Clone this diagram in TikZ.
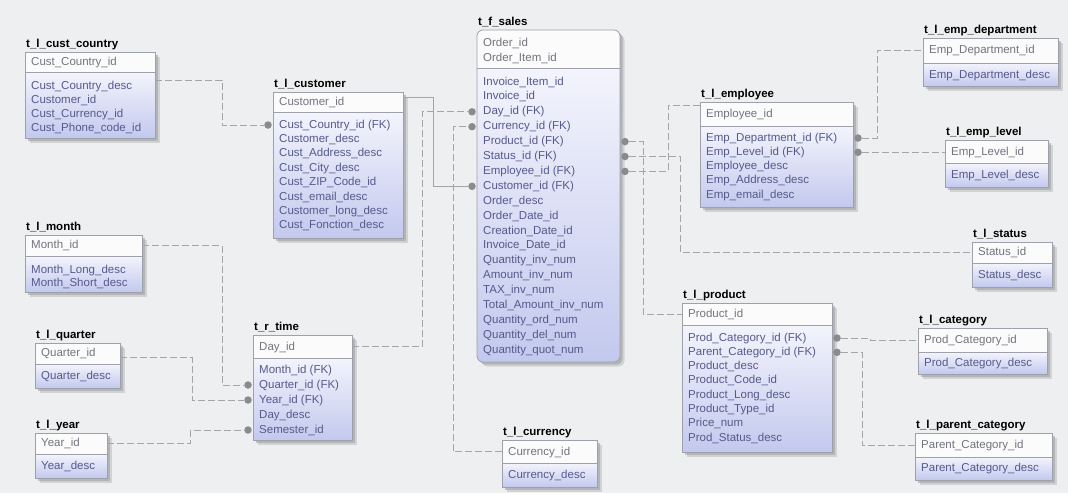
\documentclass[tikz,border=0pt]{standalone}
\usepackage{fontspec}
\setmainfont{Liberation Sans}
\usetikzlibrary{calc}

\definecolor{pagebg}{HTML}{EDEFF0}
\definecolor{boxline}{HTML}{9EA1A9}
\definecolor{pkfillc}{HTML}{FBFBFC}
\definecolor{attrtop}{HTML}{F3F4FC}
\definecolor{attrbot}{HTML}{C3C9EE}
\definecolor{pktext}{HTML}{72747F}
\definecolor{attrtext}{HTML}{555A8C}
\definecolor{linkc}{HTML}{A3A5A8}
\definecolor{dotc}{HTML}{8A8B8E}
\definecolor{shadowc}{HTML}{9C9DA2}

\pgfdeclarelayer{bg}
\pgfdeclarelayer{shadow}
\pgfsetlayers{bg,shadow,main}

\tikzset{
  tabtitle/.style={font=\fontsize{11.5}{13}\selectfont\bfseries, text=black, inner sep=0pt},
  pkrow/.style={font=\fontsize{11.5}{13}\selectfont, text=pktext, inner sep=0pt,
                text height=8.5pt, text depth=2.5pt},
  attrrow/.style={pkrow, text=attrtext},
  partbox/.style={draw=none, inner sep=0pt, outer sep=0pt},
  boxedge/.style={draw=boxline, line width=0.8pt},
  fkdot/.style={circle, fill=dotc, inner sep=0pt, minimum size=7.5pt},
  reflink/.style={draw=linkc, line width=0.8pt, dash pattern=on 7pt off 3pt},
  idlink/.style={draw=linkc, line width=0.8pt},
}

% Table frame: [corner radius]{id}{left}{top}{width}{separator y}{bottom}{title}
\newcommand\ertable[8][0pt]{%
  \pgfmathsetmacro\erright{#3+#5}%
  \begin{pgfonlayer}{shadow}
    \fill[shadowc, opacity=.35, rounded corners=#1] (#3+4.5,#4+4.5) rectangle (\erright+4.5,#7+4.5);
    \fill[shadowc, opacity=.55, rounded corners=#1] (#3+2.5,#4+2.5) rectangle (\erright+2.5,#7+2.5);
  \end{pgfonlayer}
  \begin{scope}
    \clip[rounded corners=#1] (#3,#4) rectangle (\erright,#7);
    \fill[pkfillc] (#3,#4) rectangle (\erright,#6);
    \shade[top color=attrtop, bottom color=attrbot] (#3,#6) rectangle (\erright,#7);
  \end{scope}
  \draw[boxedge, rounded corners=#1] (#3,#4) rectangle (\erright,#7);
  \draw[boxedge] (#3,#6) -- (\erright,#6);
  \node[partbox, anchor=north west, minimum width=#5, minimum height=#6-#4] (#2-pk) at (#3,#4) {};
  \node[partbox, anchor=north west, minimum width=#5, minimum height=#7-#6] (#2-attr) at (#3,#6) {};
  \node[tabtitle, anchor=base west] (#2-title) at (#3+1,#4-5) {#8};
}

% Column rows: {id}{style}{tag}{left}{first y}{pitch}{list}
\newcommand\errows[7]{%
  \foreach \txt [count=\k] in {#7} {%
    \node[#2, anchor=west] (#1-#3\k) at (#4+6, #5+\k*#6-#6) {\txt};
  }%
}

\begin{document}
\begin{tikzpicture}[x=1pt, y=-1pt]
\useasboundingbox (0,0) rectangle (1068,493);
\begin{pgfonlayer}{bg}
  \fill[pagebg] (0,0) rectangle (1068,493);
\end{pgfonlayer}

% ---- customer side
\ertable{cc}{25}{52}{130}{72}{138}{t\_l\_cust\_country}
\errows{cc}{pkrow}{p}{25}{62}{14}{{Cust\_Country\_id}}
\errows{cc}{attrrow}{a}{25}{86}{14}{{Cust\_Country\_desc},{Customer\_id},{Cust\_Currency\_id},{Cust\_Phone\_code\_id}}

\ertable{cu}{273}{92}{130}{112}{238}{t\_l\_customer}
\errows{cu}{pkrow}{p}{273}{102}{14}{{Customer\_id}}
\errows{cu}{attrrow}{a}{273}{125}{14.4}{{Cust\_Country\_id (FK)},{Customer\_desc},{Cust\_Address\_desc},{Cust\_City\_desc},{Cust\_ZIP\_Code\_id},{Cust\_email\_desc},{Customer\_long\_desc},{Cust\_Fonction\_desc}}

% ---- fact table
\ertable[6pt]{s}{477}{30}{143}{68}{362}{t\_f\_sales}
\errows{s}{pkrow}{p}{477}{43}{15}{{Order\_id},{Order\_Item\_id}}
\errows{s}{attrrow}{a}{477}{82}{14.9}{{Invoice\_Item\_id},{Invoice\_id},{Day\_id (FK)},{Currency\_id (FK)},{Product\_id (FK)},{Status\_id (FK)},{Employee\_id (FK)},{Customer\_id (FK)},{Order\_desc},{Order\_Date\_id},{Creation\_Date\_id},{Invoice\_Date\_id},{Quantity\_inv\_num},{Amount\_inv\_num},{TAX\_inv\_num},{Total\_Amount\_inv\_num},{Quantity\_ord\_num},{Quantity\_del\_num},{Quantity\_quot\_num}}

% ---- employee side
\ertable{e}{700}{102}{153}{126}{207}{t\_l\_employee}
\errows{e}{pkrow}{p}{700}{114}{14}{{Employee\_id}}
\errows{e}{attrrow}{a}{700}{138}{14.3}{{Emp\_Department\_id (FK)},{Emp\_Level\_id (FK)},{Employee\_desc},{Emp\_Address\_desc},{Emp\_email\_desc}}

\ertable{dp}{923}{38}{135}{63}{86}{t\_l\_emp\_department}
\errows{dp}{pkrow}{p}{923}{50}{14}{{Emp\_Department\_id}}
\errows{dp}{attrrow}{a}{923}{75}{14}{{Emp\_Department\_desc}}

\ertable{lv}{945}{140}{103}{163}{187}{t\_l\_emp\_level}
\errows{lv}{pkrow}{p}{945}{152}{14}{{Emp\_Level\_id}}
\errows{lv}{attrrow}{a}{945}{175}{14}{{Emp\_Level\_desc}}

\ertable{st}{972}{242}{80}{263}{287}{t\_l\_status}
\errows{st}{pkrow}{p}{972}{252.5}{14}{{Status\_id}}
\errows{st}{attrrow}{a}{972}{275}{14}{{Status\_desc}}

% ---- product side
\ertable{p}{682}{303}{150}{325}{452}{t\_l\_product}
\errows{p}{pkrow}{p}{682}{314}{14}{{Product\_id}}
\errows{p}{attrrow}{a}{682}{338}{14.3}{{Prod\_Category\_id (FK)},{Parent\_Category\_id (FK)},{Product\_desc},{Product\_Code\_id},{Product\_Long\_desc},{Product\_Type\_id},{Price\_num},{Prod\_Status\_desc}}

\ertable{cat}{918}{328}{129}{352}{374}{t\_l\_category}
\errows{cat}{pkrow}{p}{918}{340}{14}{{Prod\_Category\_id}}
\errows{cat}{attrrow}{a}{918}{363}{14}{{Prod\_Category\_desc}}

\ertable{pc}{915}{433}{137}{457}{480}{t\_l\_parent\_category}
\errows{pc}{pkrow}{p}{915}{445}{14}{{Parent\_Category\_id}}
\errows{pc}{attrrow}{a}{915}{468}{14}{{Parent\_Category\_desc}}

\ertable{cur}{502}{440}{95}{463}{487}{t\_l\_currency}
\errows{cur}{pkrow}{p}{502}{452}{14}{{Currency\_id}}
\errows{cur}{attrrow}{a}{502}{475}{14}{{Currency\_desc}}

% ---- time side
\ertable{t}{253}{335}{99}{358}{440}{t\_r\_time}
\errows{t}{pkrow}{p}{253}{347}{14}{{Day\_id}}
\errows{t}{attrrow}{a}{253}{370}{15}{{Month\_id (FK)},{Quarter\_id (FK)},{Year\_id (FK)},{Day\_desc},{Semester\_id}}

\ertable{m}{25}{235}{117}{256}{292}{t\_l\_month}
\errows{m}{pkrow}{p}{25}{245}{14}{{Month\_id}}
\errows{m}{attrrow}{a}{25}{270}{13.5}{{Month\_Long\_desc},{Month\_Short\_desc}}

\ertable{q}{35}{343}{85}{364}{388}{t\_l\_quarter}
\errows{q}{pkrow}{p}{35}{353}{14}{{Quarter\_id}}
\errows{q}{attrrow}{a}{35}{376}{14}{{Quarter\_desc}}

\ertable{yr}{35}{433}{72}{454}{478}{t\_l\_year}
\errows{yr}{pkrow}{p}{35}{443}{14}{{Year\_id}}
\errows{yr}{attrrow}{a}{35}{466}{14}{{Year\_desc}}

% ---- foreign key end points
\node[fkdot, xshift=-5pt] (cu-dcc)  at (cu-a1 -| cu-pk.west) {};
\node[fkdot, xshift=-5pt] (s-dday)  at (s-a3 -| s-pk.west) {};
\node[fkdot, xshift=-5pt] (s-dcur)  at (s-a4 -| s-pk.west) {};
\node[fkdot, xshift=-5pt] (s-dcust) at (s-a8 -| s-pk.west) {};
\node[fkdot, xshift=5pt]  (s-dprod) at (s-a5 -| s-pk.east) {};
\node[fkdot, xshift=5pt]  (s-dstat) at (s-a6 -| s-pk.east) {};
\node[fkdot, xshift=5pt]  (s-demp)  at (s-a7 -| s-pk.east) {};
\node[fkdot, xshift=5pt]  (e-ddept) at (e-a1 -| e-pk.east) {};
\node[fkdot, xshift=5pt]  (e-dlvl)  at (e-a2 -| e-pk.east) {};
\node[fkdot, xshift=5pt]  (p-dcat)  at (p-a1 -| p-pk.east) {};
\node[fkdot, xshift=5pt]  (p-dpar)  at (p-a2 -| p-pk.east) {};
\node[fkdot, xshift=-5pt] (t-dq)    at (t-a2 -| t-pk.west) {};
\node[fkdot, xshift=-5pt] (t-dy)    at (t-a3 -| t-pk.west) {};
\node[fkdot, xshift=-5pt] (t-ds)    at (t-a5 -| t-pk.west) {};

% ---- relationships
\draw[reflink] ($(cc-attr.north east)+(0,8)$) -- ++(67,0) |- (cu-dcc);
\draw[idlink]  ($(cu-pk.east)+(0,-5)$) -- ++(30,0) |- (s-dcust);
\draw[reflink] (t-pk.east) -- ++(70,0) |- (s-dday);
\draw[reflink] (cur-pk.west) -- ++(-49,0) |- (s-dcur);
\draw[reflink] (s-dprod) -- ++(18,0) |- (p-pk.west);
\draw[reflink] (s-dstat) -- ++(55,0) |- (st-pk.west);
\draw[reflink] (s-demp) -- ++(43,0) |- ($(e-pk.north west)+(0,3)$);
\draw[reflink] (e-ddept) -- ++(19,0) |- (dp-pk.west);
\draw[reflink] (e-dlvl) -- (e-dlvl -| lv-pk.west);
\draw[reflink] (p-dcat) -- ++(33,0) |- (cat-pk.west);
\draw[reflink] (p-dpar) -- ++(25,0) |- (pc-pk.west);
\draw[reflink] (m-pk.east) -- ++(80,0) |- (t-dq);
\draw[reflink] ($(q-pk.east)+(0,4)$) -- ++(72,0) |- (t-dy);
\draw[reflink] (yr-pk.east) -- ++(83,0) |- (t-ds);
\end{tikzpicture}
\end{document}
